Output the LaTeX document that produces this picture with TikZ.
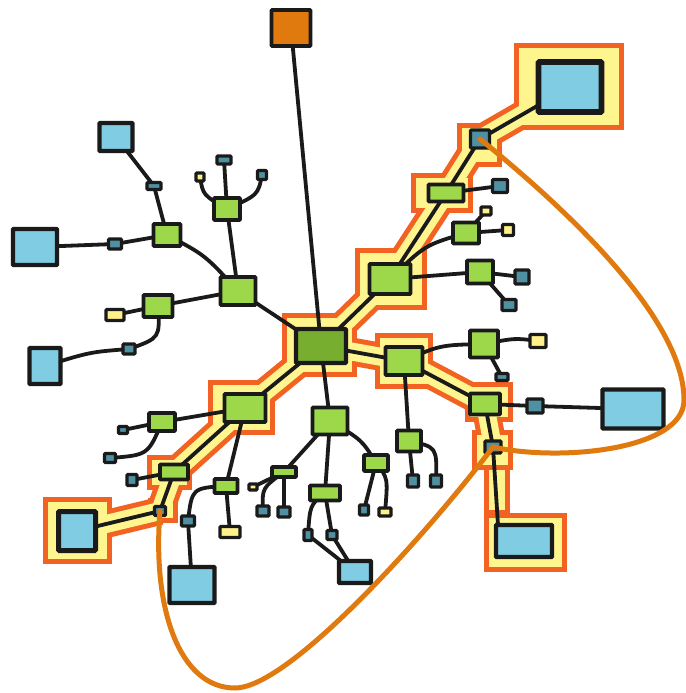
\documentclass[tikz,border=0pt]{standalone}
\pgfdeclarelayer{hl}\pgfdeclarelayer{edges}
\pgfsetlayers{hl,edges,main}
\definecolor{ink}{HTML}{1A1A1A}
\definecolor{lb}{HTML}{80CCE2}
\definecolor{tealc}{HTML}{4F90A3}
\definecolor{gr}{HTML}{9DD84B}
\definecolor{dgr}{HTML}{78AE30}
\definecolor{yl}{HTML}{FFF08A}
\definecolor{orc}{HTML}{E07A0E}
\definecolor{hlor}{HTML}{F26222}
\definecolor{hlyl}{HTML}{FFF58F}
\tikzset{
 bx/.style={draw=ink, line width=3.8pt, inner sep=0pt, rounded corners=0.8pt},
 blu/.style={bx, fill=lb, line width=4.4pt},
 grn/.style={bx, fill=gr},
 tl/.style={bx, fill=tealc, line width=3.2pt},
 ylw/.style={bx, fill=yl, line width=3.2pt},
 sz/.style 2 args={minimum width=#1pt, minimum height=#2pt},
 edge/.style={draw=ink, line width=3.8pt, line cap=round},
 loopc/.style={draw=orc, line width=5pt, line cap=round},
 hlo/.style={fill=hlor},
 hly/.style={fill=hlyl},
 bando/.style={draw=hlor, line width=28pt, line cap=butt},
 bandy/.style={draw=hlyl, line width=18pt, line cap=butt},
}
\begin{document}
\begin{tikzpicture}[x=1pt,y=-1pt]
\useasboundingbox (0,0) rectangle (685,693);
% nodes
\node[bx, fill=orc, sz={39}{36}] (top) at (291,28) {};
\node[bx, fill=dgr, line width=4.2pt, sz={50}{34}] (ctr) at (321,346) {};
\node[grn, sz={35}{28}] (G2) at (238,291) {};
\node[grn, sz={27}{22}] (G1) at (167,235) {};
\node[grn, sz={26}{22}] (G3) at (227,209) {};
\node[grn, sz={29}{22}] (G4) at (158,306) {};
\node[blu, sz={33}{28}] (bTL) at (116,137) {};
\node[tl, sz={14}{7}] (tTL) at (154,186) {};
\node[blu, sz={44}{36}] (bL) at (35,247) {};
\node[tl, sz={13}{10}] (tL) at (115,244) {};
\node[ylw, sz={8}{8}] (yG3) at (200,177) {};
\node[tl, sz={14}{8}] (tG3a) at (224,160) {};
\node[tl, sz={9}{9}] (tG3b) at (262,175) {};
\node[ylw, sz={18}{11}] (yG4) at (115,315) {};
\node[tl, sz={12}{10}] (tG4) at (129,349) {};
\node[blu, sz={31}{36}] (bBL) at (45,366) {};
\node[grn, sz={41}{30}] (A) at (390,279) {};
\node[grn, sz={35}{17}] (B) at (446,193) {};
\node[tl, sz={19}{18}] (T1) at (480,139) {};
\node[blu, line width=5.6pt, sz={63}{50}] (bTR) at (570,87) {};
\node[tl, sz={15}{13}] (tB) at (500,186) {};
\node[ylw, sz={10}{8}] (yH1a) at (486,211) {};
\node[grn, sz={26}{21}] (H1) at (466,233) {};
\node[ylw, sz={11}{11}] (yH1b) at (508,230) {};
\node[grn, sz={26}{23}] (H2) at (480,272) {};
\node[tl, sz={14}{14}] (tH2a) at (522,277) {};
\node[tl, sz={14}{11}] (tH2b) at (509,305) {};
\node[grn, sz={37}{28}] (C) at (404,361) {};
\node[grn, sz={28}{27}] (I1) at (484,344) {};
\node[ylw, sz={16}{13}] (yI1) at (538,341) {};
\node[tl, sz={12}{7}] (tI1) at (502,377) {};
\node[grn, sz={30}{21}] (D) at (485,404) {};
\node[tl, sz={16}{14}] (tD) at (535,406) {};
\node[blu, sz={61}{39}] (bR) at (633,409) {};
\node[tl, sz={16}{12}] (T2) at (493,447) {};
\node[blu, sz={56}{32}] (bBR) at (524,541) {};
\node[grn, sz={24}{21}] (K) at (409,441) {};
\node[tl, sz={11}{12}] (tKa) at (413,481) {};
\node[tl, sz={11}{12}] (tKb) at (436,481) {};
\node[grn, sz={35}{27}] (J) at (330,421) {};
\node[grn, sz={24}{10}] (L) at (284,472) {};
\node[ylw, sz={8}{6}] (yL) at (253,487) {};
\node[tl, sz={12}{10}] (tLa) at (263,511) {};
\node[tl, sz={12}{10}] (tLb) at (284,512) {};
\node[grn, sz={30}{15}] (M) at (325,493) {};
\node[tl, sz={8}{11}] (tMa) at (308,535) {};
\node[tl, sz={10}{9}] (tMb) at (332,535) {};
\node[blu, sz={32}{22}] (bB) at (355,572) {};
\node[grn, sz={24}{16}] (N) at (376,463) {};
\node[tl, sz={9}{10}] (tN) at (364,510) {};
\node[ylw, sz={12}{8}] (yN) at (385,512) {};
\node[grn, sz={23}{14}] (O) at (226,486) {};
\node[ylw, sz={20}{11}] (yO) at (230,532) {};
\node[tl, sz={13}{10}] (tO) at (188,521) {};
\node[blu, sz={45}{36}] (bO) at (192,585) {};
\node[grn, sz={41}{28}] (E) at (245,408) {};
\node[grn, sz={26}{18}] (P) at (162,422) {};
\node[tl, sz={9}{7}] (tPa) at (123,430) {};
\node[tl, sz={11}{9}] (tPb) at (110,458) {};
\node[grn, sz={28}{15}] (F) at (174,472) {};
\node[tl, sz={10}{11}] (tF) at (132,480) {};
\node[tl, sz={11}{9}] (T3) at (160,511) {};
\node[blu, line width=5pt, sz={37}{39}] (bLL) at (77,531) {};
\coordinate (bBRtop) at (498,525);
% highlight
\begin{pgfonlayer}{hl}
\foreach \a/\b/\c/\d in {514/43/624/130, 457/123/502/167, 411/173/473/213, 355/248/427/310, 282/313/357/377, 375/333/433/389, 465/382/513/422, 472/430/513/470, 484/465/510/515, 484/513/567/572, 208/380/275/435, 147/455/192/490, 148/498/178/523, 43/497/112/564}
  {\fill[hlo] (\a,\b) rectangle (\c,\d);}
\foreach \u/\v in {ctr/A, A/B, B/T1, T1/bTR, ctr/C, C/D, D/T2, ctr/E, E/F, F/T3, T3/bLL}
  {\draw[bando] (\u.center) -- (\v.center);}
\foreach \a/\b/\c/\d in {514/43/624/130, 457/123/502/167, 411/173/473/213, 355/248/427/310, 282/313/357/377, 375/333/433/389, 465/382/513/422, 472/430/513/470, 484/465/510/515, 484/513/567/572, 208/380/275/435, 147/455/192/490, 148/498/178/523, 43/497/112/564}
  {\fill[hly] ({\a+5},{\b+5}) rectangle ({\c-5},{\d-5});}
\foreach \u/\v in {ctr/A, A/B, B/T1, T1/bTR, ctr/C, C/D, D/T2, ctr/E, E/F, F/T3, T3/bLL}
  {\draw[bandy] (\u.center) -- (\v.center);}
\end{pgfonlayer}
% edges
\begin{pgfonlayer}{edges}
\foreach \u/\v in {top/ctr, ctr/G2, G1/tTL, tTL/bTL, G1/tL, tL/bL, G2/G3, G3/tG3a, G2/G4, G4/yG4, ctr/A, A/B, B/T1, T1/bTR, B/tB, H1/yH1a, H1/yH1b, A/H2, H2/tH2a, H2/tH2b, ctr/C, I1/tI1, C/D, D/tD, tD/bR, D/T2, T2/bBRtop, C/K, K/tKa, ctr/J, J/M, M/tMb, tMa/bB, tMb/bB, J/L, L/yL, L/tLb, N/tN, ctr/E, E/P, P/tPa, E/F, F/tF, F/T3, T3/bLL, E/O, O/yO, tO/bO}
  {\draw[edge] (\u.center) -- (\v.center);}
\draw[edge] (G2.center) .. controls (205,255) .. (G1.center);
\draw[edge] (G3.center) .. controls (203,195) .. (yG3.center);
\draw[edge] (G3.center) .. controls (258,195) .. (tG3b.center);
\draw[edge] (G4.center) .. controls (160,338) .. (tG4.center);
\draw[edge] (tG4.center) .. controls (90,352) .. (bBL.center);
\draw[edge] (A.center) .. controls (425,245) .. (H1.center);
\draw[edge] (C.center) .. controls (440,345) .. (I1.center);
\draw[edge] (I1.center) .. controls (515,338) .. (yI1.center);
\draw[edge] (K.center) .. controls (437,447) .. (tKb.center);
\draw[edge] (J.center) .. controls (362,440) .. (N.center);
\draw[edge] (N.center) .. controls (388,478) .. (yN.center);
\draw[edge] (L.center) .. controls (262,488) .. (tLa.center);
\draw[edge] (M.center) .. controls (310,505) .. (tMa.center);
\draw[edge] (O.center) .. controls (192,488) .. (tO.center);
\draw[edge] (P.center) .. controls (148,455) .. (tPb.center);
\end{pgfonlayer}
% orange loops
\coordinate (r1) at (684,400);
\coordinate (r2) at (235,688);
\draw[loopc] (T1.center) .. controls (570,212) and (684,320) .. (r1) .. controls (684,450) and (560,462) .. (T2.center);
\draw[loopc] (T3.center) .. controls (152,610) and (180,688) .. (r2) .. controls (290,688) and (430,530) .. (T2.center);
\end{tikzpicture}
\end{document}
